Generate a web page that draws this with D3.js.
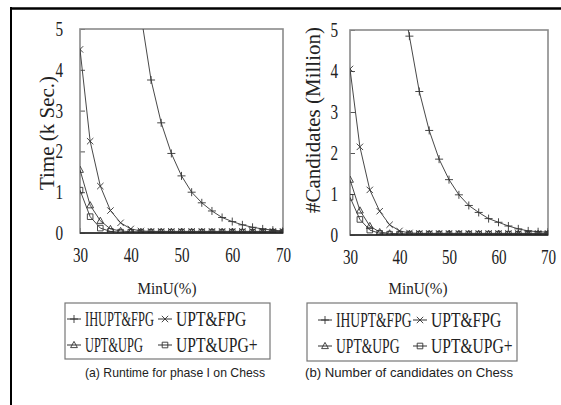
<!DOCTYPE html>
<html><head><meta charset="utf-8">
<script src="https://cdn.jsdelivr.net/npm/d3@7"></script>
<style>
html,body{margin:0;padding:0;background:#fff;}
svg{display:block;}
</style></head>
<body>
<svg id="c" width="561" height="405"></svg>
<script>
// ---- data ----
const minU = [30,32,34,36,38,40,42,44,46,48,50,52,54,56,58,60,62,64,66,68,70];
const xTicks = [30,40,50,60,70];
const yTicks = [0,1,2,3,4,5];
const seriesNames = ["IHUPT&FPG","UPT&FPG","UPT&UPG","UPT&UPG+"];

// (a) Runtime (k Sec.)
const timeIHUPT = [null,null,null,null,null,7.6,5.35,3.75,2.7,1.95,1.4,1.0,0.74,0.54,0.38,0.28,0.2,0.14,0.1,0.07,0.05];
const timeUPTFPG = [4.5,2.25,1.15,0.55,0.25,0.1,0.05,0.04,0.04,0.04,0.04,0.04,0.04,0.04,0.04,0.04,0.04,0.04,0.04,0.04,0.04];
const timeUPTUPG = [1.55,0.68,0.3,0.1,0.05,0.03,0.03,0.03,0.03,0.03,0.03,0.03,0.03,0.03,0.03,0.03,0.03,0.03,0.03,0.03,0.03];
const timeUPTUPGp = [1.05,0.4,0.12,0.04,0.02,0.02,0.02,0.02,0.02,0.02,0.02,0.02,0.02,0.02,0.02,0.02,0.02,0.02,0.02,0.02,0.02];

// (b) Candidates (Million)
const candIHUPT = [null,null,null,null,null,6.2,4.85,3.5,2.55,1.85,1.35,0.98,0.72,0.55,0.4,0.31,0.22,0.15,0.1,0.08,0.07];
const candUPTFPG = [4.05,2.15,1.1,0.58,0.25,0.1,0.05,0.04,0.04,0.04,0.04,0.04,0.04,0.04,0.04,0.04,0.04,0.04,0.04,0.04,0.04];
const candUPTUPG = [1.35,0.6,0.22,0.07,0.04,0.03,0.03,0.03,0.03,0.03,0.03,0.03,0.03,0.03,0.03,0.03,0.03,0.03,0.03,0.03,0.03];
const candUPTUPGp = [0.92,0.38,0.12,0.04,0.02,0.02,0.02,0.02,0.02,0.02,0.02,0.02,0.02,0.02,0.02,0.02,0.02,0.02,0.02,0.02,0.02];

const svg = d3.select("#c");
const SERIF = "Liberation Serif";
const SANS = "Liberation Sans";
const INK = "#333";

// outer figure frame (top & left edges)
svg.append("line").attr("x1",10).attr("x2",561).attr("y1",8.5).attr("y2",8.5).attr("stroke","#000").attr("stroke-width",2.5);
svg.append("line").attr("x1",11).attr("x2",11).attr("y1",7).attr("y2",405).attr("stroke","#000").attr("stroke-width",2);

const markerPaths = [
  "M-4,0H4M0,-4V4",
  "M-3.2,-3.2L3.2,3.2M-3.2,3.2L3.2,-3.2",
  "M0,-3.6L3.4,2.6L-3.4,2.6Z",
  "M-2.8,-2.8H2.8V2.8H-2.8Z"
];

function stext(g, x, y, txt, size, sx, anchor, family){
  return g.append("text").attr("transform",`translate(${x},${y}) scale(${sx},1)`)
    .attr("text-anchor",anchor).style("font-family",family||SERIF).style("font-size",size+"px")
    .attr("fill","#222").text(txt);
}

function panel(opt){
  const g = svg.append("g");
  const x = d3.scaleLinear().domain([30,70]).range([opt.x0,opt.x1]);
  const y = d3.scaleLinear().domain([0,5]).range([opt.y1,opt.y0]);
  const id = "clip"+opt.id;
  svg.append("clipPath").attr("id",id).append("rect")
    .attr("x",opt.x0).attr("y",opt.y0).attr("width",opt.x1-opt.x0).attr("height",opt.y1-opt.y0);

  // x axis
  const sx = 0.72;
  const xa = g.append("g").attr("transform",`translate(0,${opt.y1})`)
    .call(d3.axisBottom(x).tickValues(xTicks).tickFormat(d3.format("d")).tickSize(-5).tickPadding(opt.xpad));
  xa.select(".domain").remove();
  xa.selectAll("line").attr("stroke","#666");
  xa.selectAll("text").style("font-family",SERIF).style("font-size","21px").attr("fill","#222")
    .attr("dy","0.71em").attr("transform",`scale(${sx},1)`);

  // y axis
  const ya = g.append("g").attr("transform",`translate(${opt.x0},0)`)
    .call(d3.axisLeft(y).tickValues(yTicks).tickFormat(d3.format("d")).tickSize(-5).tickPadding(opt.ypad));
  ya.select(".domain").remove();
  ya.selectAll("line").attr("stroke","#555");
  ya.selectAll("text").style("font-family",SERIF).style("font-size","20px").attr("fill","#222")
    .each(function(){ const t=d3.select(this); t.attr("x", +t.attr("x")/0.76); })
    .attr("transform","scale(0.76,1)");

  // frame
  g.append("rect").attr("x",opt.x0).attr("y",opt.y0).attr("width",opt.x1-opt.x0).attr("height",opt.y1-opt.y0)
    .attr("fill","none").attr("stroke","#8a8a8a").attr("stroke-width",1.6);

  // series
  const line = d3.line().defined(d=>d[1]!=null).x(d=>x(d[0])).y(d=>y(d[1]));
  const plot = g.append("g").attr("clip-path",`url(#${id})`);
  opt.data.forEach((vals,i)=>{
    const pts = minU.map((m,j)=>[m,vals[j]]);
    plot.append("path").datum(pts).attr("d",line).attr("fill","none").attr("stroke",INK).attr("stroke-width",0.9);
  });
  g.append("line").attr("x1",opt.x0).attr("x2",opt.x1).attr("y1",opt.y1).attr("y2",opt.y1)
    .attr("stroke","#222").attr("stroke-width",1.4);
  opt.data.forEach((vals,i)=>{
    const pts = minU.map((m,j)=>[m,vals[j]]).filter(d=>d[1]!=null && d[1]<=5);
    plot.selectAll(null).data(pts).join("path")
      .attr("transform",d=>`translate(${x(d[0])},${y(d[1])})`)
      .attr("d",markerPaths[i]).attr("fill","none").attr("stroke",INK).attr("stroke-width",0.9);
  });

  // axis titles
  stext(g, opt.mx, 294, "MinU(%)", 16.5, 0.92, "middle");
  g.append("text").attr("transform",`translate(${opt.ylx},${opt.yly}) rotate(-90)`)
    .attr("text-anchor","middle").style("font-family",SERIF).style("font-size","21px").attr("fill","#222").text(opt.ylabel);

  // legend
  const L = opt.leg;
  g.append("rect").attr("x",L.x).attr("y",L.y).attr("width",L.w).attr("height",L.h)
    .attr("fill","none").attr("stroke","#777").attr("stroke-width",1.2);
  seriesNames.forEach((n,i)=>{
    const col = i%2;
    const cx = col===0 ? L.c1 : L.c2;
    const cy = i<2 ? L.r1 : L.r2;
    g.append("line").attr("x1",cx-7).attr("x2",cx+7).attr("y1",cy).attr("y2",cy).attr("stroke",INK).attr("stroke-width",1);
    g.append("path").attr("transform",`translate(${cx},${cy})`).attr("d",markerPaths[i]).attr("fill","none").attr("stroke",INK).attr("stroke-width",0.9);
    stext(g, cx+11, cy+7, n, 20, col===0 ? L.s1 : L.s2, "start");
  });

  // caption
  g.append("text").attr("x",opt.capx).attr("y",377).attr("text-anchor","middle")
    .style("font-family",SANS).style("font-size","13.5px").attr("fill","#222")
    .attr("textLength",opt.capw).attr("lengthAdjust","spacingAndGlyphs").text(opt.caption);
}

panel({id:"a", x0:80, x1:283, y0:29, y1:233, xpad:14, ypad:17, ylabel:"Time (k Sec.)", ylx:54, yly:133, mx:167,
  data:[timeIHUPT,timeUPTFPG,timeUPTUPG,timeUPTUPGp],
  leg:{x:65,y:303,w:205,h:56,c1:74,c2:165,r1:319,r2:345,s1:0.62,s2:0.78},
  caption:"(a) Runtime for phase I on Chess", capx:175, capw:180});
panel({id:"b", x0:350, x1:548, y0:30, y1:235, xpad:14, ypad:12, ylabel:"#Candidates (Million)", ylx:320, yly:120, mx:418,
  data:[candIHUPT,candUPTFPG,candUPTUPG,candUPTUPGp],
  leg:{x:307,y:303,w:210,h:58,c1:325,c2:420,r1:320,r2:346,s1:0.68,s2:0.78},
  caption:"(b) Number of candidates on Chess", capx:409, capw:208});
</script>
</body></html>
